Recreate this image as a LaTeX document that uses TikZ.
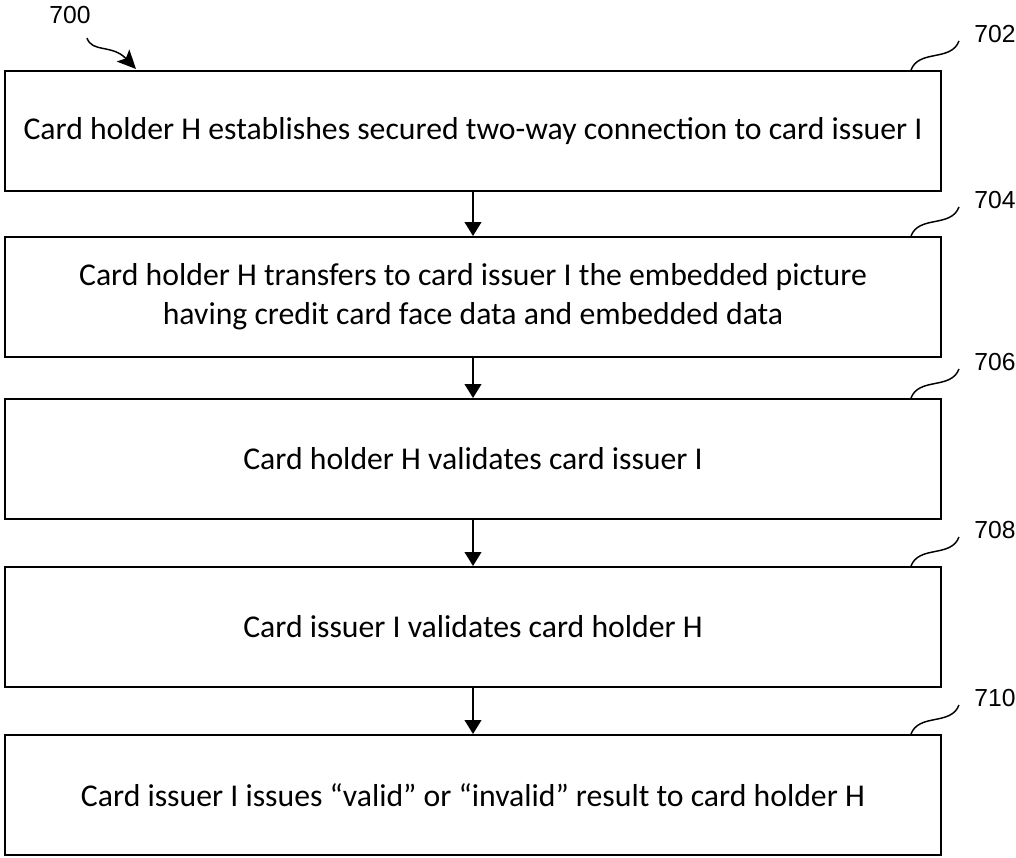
\documentclass[tikz,border=0pt]{standalone}
\usepackage{fontspec}
\setmainfont{Carlito}
\newfontfamily\labelfont{Liberation Sans}
\usetikzlibrary{arrows.meta,calc}
\begin{document}
\begin{tikzpicture}[x=0.75pt,y=-0.75pt,
  stepbox/.style={draw,line width=1.5pt,minimum width=702pt,minimum height=90pt,
    inner sep=0pt,align=center,font=\fontsize{23.8}{29.5}\selectfont},
  flow/.style={line width=1.5pt,-{Triangle[width=12.5pt,length=10.5pt]}},
  squig/.style={line width=1.1pt},
  reflabel/.style={font=\labelfont\fontsize{18.5}{20}\selectfont,inner sep=0pt}]
\useasboundingbox (0,0) rectangle (1016,857);
\node[stepbox] (b1) at (473,131) {Card holder H establishes secured two-way connection to card issuer I};
\node[stepbox] (b2) at (473,297) {Card holder H transfers to card issuer I the embedded picture\\having credit card face data and embedded data};
\node[stepbox] (b3) at (473,459) {Card holder H validates card issuer I};
\node[stepbox] (b4) at (473,627) {Card issuer I validates card holder H};
\node[stepbox] (b5) at (473,795) {Card issuer I issues “valid” or “invalid” result to card holder H};
\draw[flow] (b1) -- (b2);
\draw[flow] (b2) -- (b3);
\draw[flow] (b3) -- (b4);
\draw[flow] (b4) -- (b5);
\foreach \b/\t in {b1/702,b2/704,b3/706,b4/708,b5/710}{
  \coordinate (\b s) at ($(\b.north east)+(-31,0)$);
  \coordinate (\b e) at ($(\b.north east)+(17,-29)$);
  \draw[squig] (\b s) .. controls +(8,-21) and +(-8,21) .. (\b e);
  \node[reflabel] (\b l) at ($(\b.north east)+(53,-36)$) {\t};
}
\node[reflabel] (l700) at (70,15) {700};
\coordinate (a700s) at (87,38);
\coordinate (a700e) at (136,69);
\draw[line width=1.1pt,-{Stealth[length=14pt,width=13pt,inset=3pt]}] (a700s) .. controls (92,53) and (112,44) .. (a700e);
\end{tikzpicture}
\end{document}
